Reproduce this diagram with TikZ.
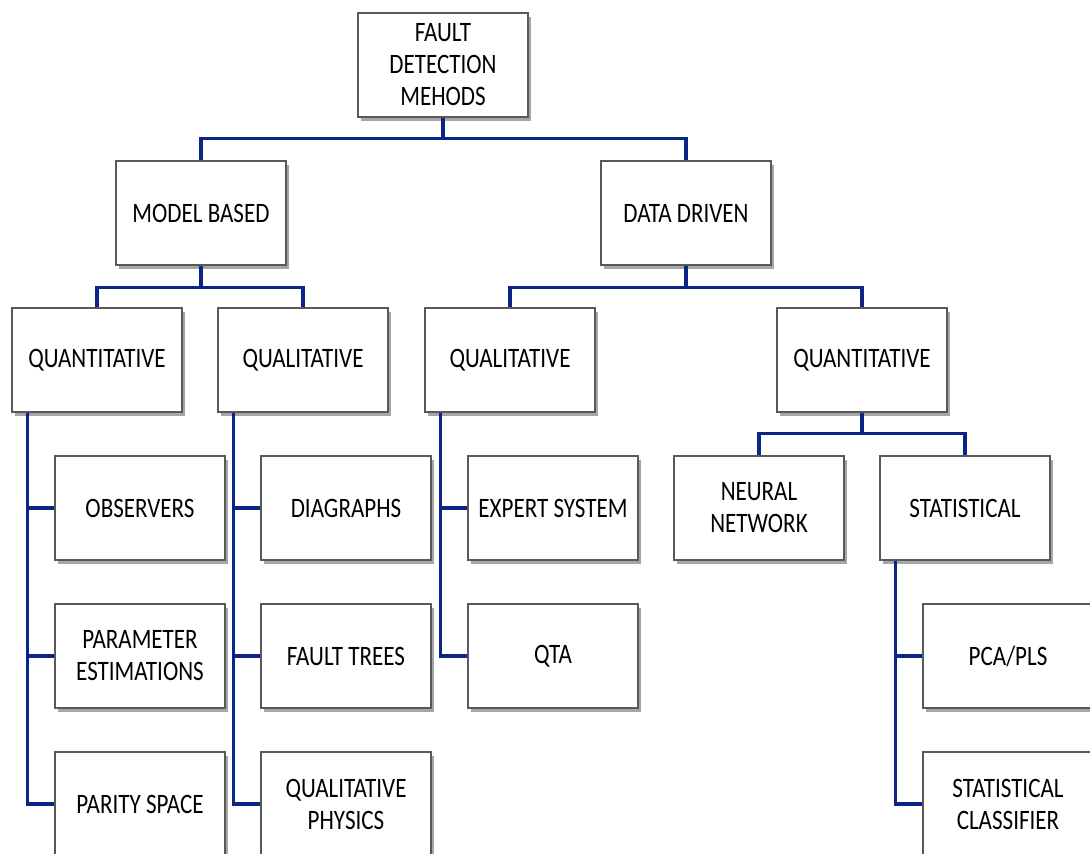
\documentclass[tikz,border=0pt]{standalone}
\usepackage{fontspec}
\setmainfont{Carlito}[FakeStretch=0.82]
\usetikzlibrary{positioning, calc, shadows}

\definecolor{linkblue}{RGB}{10,36,135}

\begin{document}
\begin{tikzpicture}[
    font=\fontsize{16}{18.2}\selectfont,
    box/.style={draw=black!65, line width=0.7pt, fill=white,
        minimum width=3.4cm, minimum height=2.08cm, align=center,
        inner sep=2pt,
        drop shadow={shadow xshift=1.5pt, shadow yshift=-2pt,
            fill=black, opacity=0.35}},
    link/.style={draw=linkblue, line width=1.8pt}
]

\useasboundingbox (0,0) rectangle (21.8,17.06);

% root
\node[box] (root) at (8.86,15.76) {FAULT\\DETECTION\\MEHODS};

% first level
\node[box] (model) at (4.02,12.80) {MODEL BASED};
\node[box] (data) at (13.72,12.80) {DATA DRIVEN};

% second level
\node[box] (mquan) at (1.94,9.86) {QUANTITATIVE};
\node[box] (mqual) at (6.06,9.86) {QUALITATIVE};
\node[box] (dqual) at (10.20,9.86) {QUALITATIVE};
\node[box] (dquan) at (17.24,9.86) {QUANTITATIVE};

% model based leaves
\node[box] (obs) at (2.80,6.90) {OBSERVERS};
\node[box] (param) at (2.80,3.94) {PARAMETER\\ESTIMATIONS};
\node[box] (parity) at (2.80,0.98) {PARITY SPACE};
\node[box] (digraph) at (6.92,6.90) {DIAGRAPHS};
\node[box] (ftree) at (6.92,3.94) {FAULT TREES};
\node[box] (qphys) at (6.92,0.98) {QUALITATIVE\\PHYSICS};

% data driven leaves
\node[box] (expert) at (11.06,6.90) {EXPERT SYSTEM};
\node[box] (qta) at (11.06,3.94) {QTA};
\node[box] (neural) at (15.18,6.90) {NEURAL\\NETWORK};
\node[box] (stat) at (19.30,6.90) {STATISTICAL};
\node[box] (pca) at (20.16,3.94) {PCA/PLS};
\node[box] (classif) at (20.16,0.98) {STATISTICAL\\CLASSIFIER};

% tree connectors
\draw[link] (root.south) -- ++(0,-0.42) -| (model.north);
\draw[link] (root.south) -- ++(0,-0.42) -| (data.north);
\draw[link] (model.south) -- ++(0,-0.44) -| (mquan.north);
\draw[link] (model.south) -- ++(0,-0.44) -| (mqual.north);
\draw[link] (data.south) -- ++(0,-0.44) -| (dqual.north);
\draw[link] (data.south) -- ++(0,-0.44) -| (dquan.north);
\draw[link] (dquan.south) -- ++(0,-0.42) -| (neural.north);
\draw[link] (dquan.south) -- ++(0,-0.42) -| (stat.north);

% side rails
\foreach \prnt/\kids in {mquan/{obs,param,parity}, mqual/{digraph,ftree,qphys},
    dqual/{expert,qta}, stat/{pca,classif}}
  \foreach \kid in \kids
    \draw[link] ($(\prnt.south west)+(0.33,0)$) |- (\kid.west);

\end{tikzpicture}
\end{document}
